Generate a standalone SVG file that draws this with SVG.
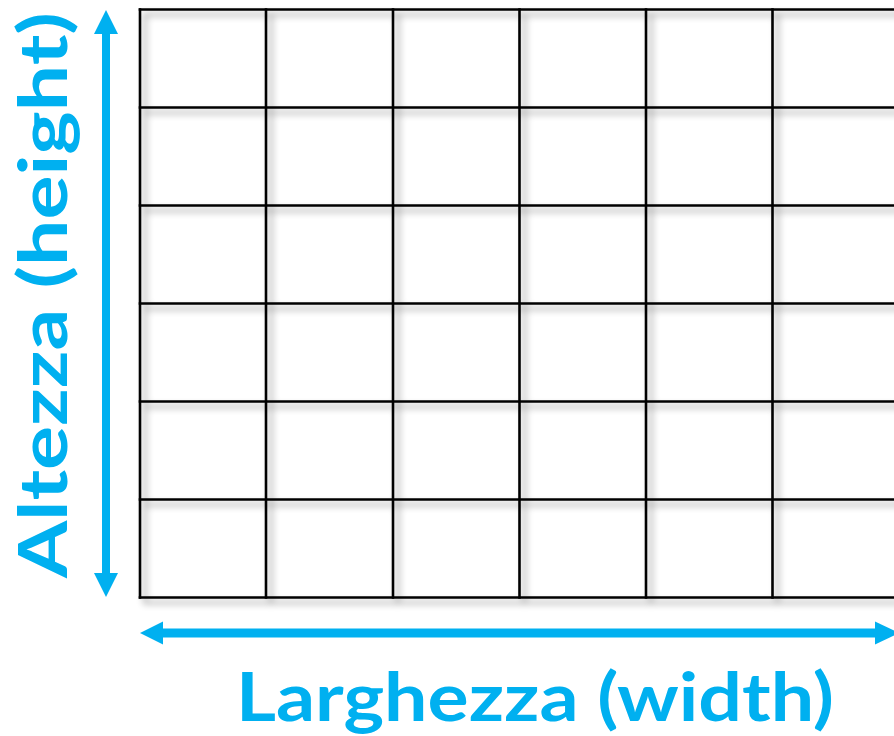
<svg xmlns="http://www.w3.org/2000/svg" width="894" height="736" viewBox="0 0 894 736">
<defs>
<style>
.grid line{stroke:#000;stroke-width:2.6;stroke-linecap:square}
.arrow{stroke:#00B0F0;stroke-width:8;fill:none}
.head{fill:#00B0F0}
.lbl{font-family:"Comic Sans MS","Lato","DejaVu Sans",sans-serif;font-weight:bold;fill:#00B0F0;font-size:66px}
</style>
<filter id="sh" x="-5%" y="-5%" width="115%" height="115%">
<feGaussianBlur in="SourceAlpha" stdDeviation="3.5"/>
<feOffset dx="5" dy="5" result="b"/>
<feComponentTransfer><feFuncA type="linear" slope="0.4"/></feComponentTransfer>
<feMerge><feMergeNode/><feMergeNode in="SourceGraphic"/></feMerge>
</filter>
</defs>
<rect width="894" height="736" fill="#fff"/>
<g id="grid" class="grid" filter="url(#sh)">
<line x1="140" y1="9.5" x2="900" y2="9.5"/>
<line x1="140" y1="107.5" x2="900" y2="107.5"/>
<line x1="140" y1="205.5" x2="900" y2="205.5"/>
<line x1="140" y1="303.5" x2="900" y2="303.5"/>
<line x1="140" y1="401.5" x2="900" y2="401.5"/>
<line x1="140" y1="499.5" x2="900" y2="499.5"/>
<line x1="140" y1="597.5" x2="900" y2="597.5"/>
<line x1="140" y1="9.5" x2="140" y2="597.5"/>
<line x1="266" y1="9.5" x2="266" y2="597.5"/>
<line x1="393" y1="9.5" x2="393" y2="597.5"/>
<line x1="519.5" y1="9.5" x2="519.5" y2="597.5"/>
<line x1="646" y1="9.5" x2="646" y2="597.5"/>
<line x1="772.5" y1="9.5" x2="772.5" y2="597.5"/>
</g>
<g id="connectors">
<g id="height-arrow">
<line class="arrow" x1="106" y1="30" x2="106" y2="577"/>
<polygon class="head" points="106,10 94,34 118,34"/>
<polygon class="head" points="106,597 94,573 118,573"/>
</g>
<g id="width-arrow">
<line class="arrow" x1="160" y1="633" x2="880" y2="633" style="stroke-width:9"/>
<polygon class="head" points="140,633 163,621.5 163,644.5"/>
<polygon class="head" points="899,633 875,621.5 875,644.5"/>
</g>
</g>
<g id="labels">
<text class="lbl" x="236" y="721" textLength="598" lengthAdjust="spacingAndGlyphs">Larghezza (width)</text>
<text class="lbl" transform="translate(67,578) rotate(-90)" x="0" y="0" textLength="566" lengthAdjust="spacingAndGlyphs">Altezza (height)</text>
</g>
</svg>
